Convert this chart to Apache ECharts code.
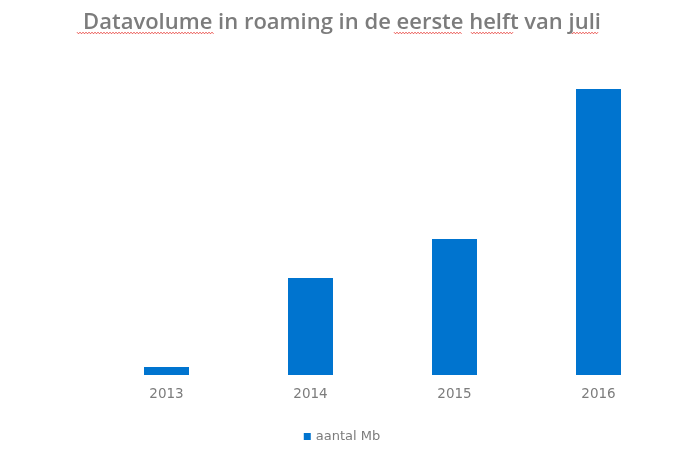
<!DOCTYPE html>
<html><head><meta charset="utf-8">
<script src="https://cdn.jsdelivr.net/npm/echarts@6/dist/echarts.min.js"></script>
<style>html,body{margin:0;padding:0;background:#fff}#c{width:684px;height:453px}</style>
</head><body><div id="c"></div>
<script>
const categories = ['2013', '2014', '2015', '2016'];
const aantalMb = [8, 97, 136, 286];
const seriesName = 'aantal Mb';
const titleText = 'Datavolume in roaming in de eerste helft van juli';

// spell-check squiggle decorations under title words [x0, x1]
const squiggleSpans = [[77, 214], [394, 462], [471, 514], [571, 599]];
function squiggle(x0, x1, y) {
  const pts = [];
  let up = true;
  for (let x = x0; x <= x1; x += 1.5) { pts.push([x, up ? y - 0.8 : y + 0.8]); up = !up; }
  return {type: 'polyline', shape: {points: pts}, style: {stroke: '#e8403a', lineWidth: 0.9, fill: null}, silent: true};
}

const chart = echarts.init(document.getElementById('c'), null, {renderer: 'canvas'});
chart.setOption({
  animation: false,
  title: {
    text: titleText, left: 'center', top: 7,
    textStyle: {fontFamily: 'Open Sans', fontSize: 22, fontWeight: 600, color: '#7c7c7c'}
  },
  legend: {
    data: [seriesName], bottom: 5, left: 'center',
    icon: 'rect', itemWidth: 7, itemHeight: 7, itemGap: 4,
    textStyle: {fontFamily: 'DejaVu Sans', fontSize: 13, color: '#7c7c7c'}
  },
  grid: {left: 94.5, right: 13.5, top: 75, bottom: 78, containLabel: false},
  xAxis: {
    type: 'category', data: categories,
    axisLine: {show: false}, axisTick: {show: false},
    axisLabel: {fontFamily: 'DejaVu Sans', fontSize: 13.5, color: '#7c7c7c', margin: 12}
  },
  yAxis: {type: 'value', min: 0, max: 300, show: false, splitLine: {show: false}},
  series: [{
    name: seriesName, type: 'bar', data: aantalMb, barWidth: '31.25%',
    itemStyle: {color: '#0074CF'}
  }],
  graphic: squiggleSpans.map(s => squiggle(s[0], s[1], 33))
});
</script></body></html>
